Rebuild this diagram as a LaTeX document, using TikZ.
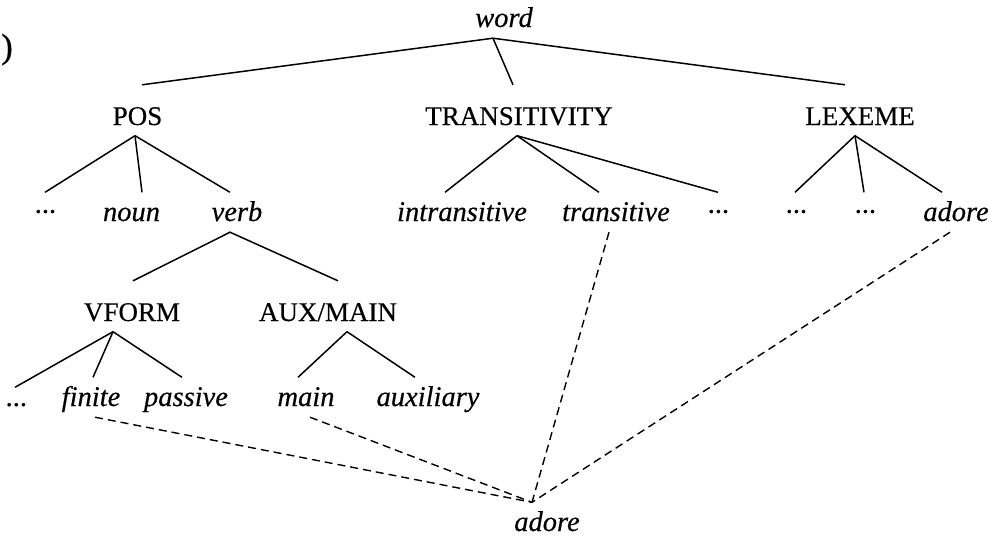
\documentclass[tikz,border=0pt]{standalone}
\usepackage{fontspec}
\setmainfont{Liberation Serif}[FakeBold=0.4]
\begin{document}
\begin{tikzpicture}[x=1pt,y=-1pt,
  cat/.style={font=\fontsize{27}{30}\selectfont, inner sep=0pt, anchor=base,
              text height=40pt, text depth=10.5pt},
  leaf/.style={font=\fontsize{28.5}{32}\selectfont\itshape, inner sep=0pt, anchor=base,
               text height=28.5pt, text depth=11pt},
  branch/.style={line width=1.5pt},
  link/.style={line width=1.4pt, dash pattern=on 8pt off 5pt}]
\useasboundingbox (0,0) rectangle (996,536);

% example tag
\node[anchor=base east, inner sep=0pt, font=\fontsize{35}{40}\selectfont] (tag) at (13,58) {(b)};

% root and feature categories
\node[leaf] (word)  at (504,27)   {word};
\node[cat]  (pos)   at (137.5,125) {POS};
\node[cat]  (trans) at (519,125)  {TRANSITIVITY};
\node[cat]  (lex)   at (860,125)  {LEXEME};

% values of the categories
\node[leaf] (pdots)  at (45,221)  {···};
\node[leaf] (noun)   at (131.5,221) {noun};
\node[leaf] (verb)   at (237,221) {verb};
\node[leaf] (intr)   at (462,221) {intransitive};
\node[leaf] (tr)     at (616,221) {transitive};
\node[leaf] (tdots)  at (718,221) {···};
\node[leaf] (ldots1) at (796,221) {···};
\node[leaf] (ldots2) at (865,221) {···};
\node[leaf] (ladore) at (956,221) {adore};

% subcategories of verb
\node[cat] (vform) at (132,321) {VFORM};
\node[cat] (aux)   at (328,321) {AUX/MAIN};

\node[leaf] (vdots)   at (17,406)  {...};
\node[leaf] (finite)  at (91,406)  {finite};
\node[leaf] (passive) at (186,406) {passive};
\node[leaf] (main)    at (306,406) {main};
\node[leaf] (auxil)   at (428,406) {auxiliary};

% the lexical item
\node[leaf] (adore) at (547,531) {adore};

% tree branches
\draw[branch] ([xshift=4.5pt]pos.north) -- ([xshift=-11pt]word.south) -- ([xshift=-15pt]lex.north);
\draw[branch] ([xshift=-11pt]word.south) -- ([xshift=-6pt]trans.north);

\draw[branch] ([xshift=-2.5pt]pos.south) -- (pdots.north);
\draw[branch] ([xshift=-2.5pt]pos.south) -- ([xshift=10.5pt]noun.north);
\draw[branch] ([xshift=-2.5pt]pos.south) -- ([xshift=-7pt]verb.north);

\draw[branch] ([xshift=-2pt]trans.south) -- ([xshift=-17pt]intr.north);
\draw[branch] ([xshift=-2pt]trans.south) -- ([xshift=-17pt]tr.north);
\draw[branch] ([xshift=-2pt]trans.south) -- (tdots.north);

\draw[branch] ([xshift=-5pt]lex.south) -- ([xshift=-1pt]ldots1.north);
\draw[branch] ([xshift=-5pt]lex.south) -- ([xshift=-1pt]ldots2.north);
\draw[branch] ([xshift=-5pt]lex.south) -- ([xshift=-14pt]ladore.north);

\draw[branch] ([xshift=1pt]vform.north) -- ([xshift=-7pt]verb.south) -- ([xshift=10pt]aux.north);

\draw[branch] ([xshift=-19pt]vform.south) -- ([xshift=-2pt,yshift=-10pt]vdots.north);
\draw[branch] ([xshift=-19pt]vform.south) -- ([xshift=2pt]finite.north);
\draw[branch] ([xshift=-19pt]vform.south) -- ([xshift=-4pt]passive.north);

\draw[branch] ([xshift=19pt]aux.south) -- ([xshift=-8pt]main.north);
\draw[branch] ([xshift=19pt]aux.south) -- ([xshift=-13pt]auxil.north);

% links from the lexical item to its feature values
\draw[link] ([xshift=4pt]finite.south) -- ([xshift=-15pt]adore.north);
\draw[link] ([xshift=4pt]main.south)   -- ([xshift=-15pt]adore.north);
\draw[link] ([xshift=-7pt]tr.south)    -- ([xshift=-15pt]adore.north);
\draw[link] ([xshift=-6pt]ladore.south) -- ([xshift=-15pt]adore.north);
\end{tikzpicture}
\end{document}
